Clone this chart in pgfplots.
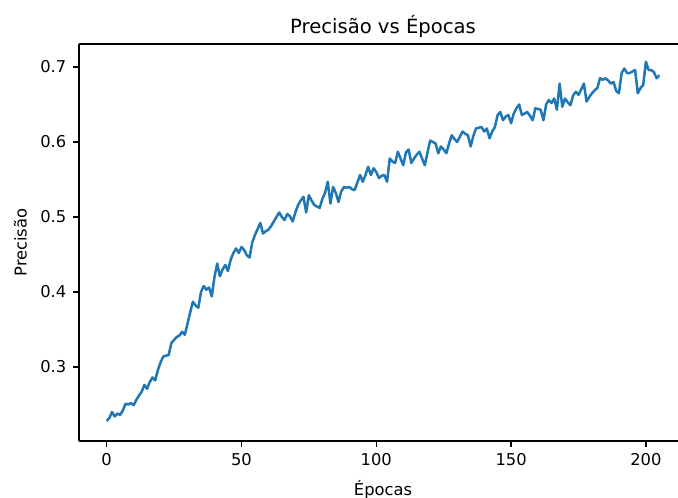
\documentclass[border=0pt]{standalone}
\usepackage{fontspec}
\setmainfont{DejaVu Sans}
\usepackage{pgfplots}
\pgfplotsset{compat=1.18}
\definecolor{mplblue}{HTML}{1F77B4}
\begin{document}
\begin{tikzpicture}
\begin{axis}[
  at={(0,0)}, anchor=south west,
  scale only axis,
  width=304pt, height=198.5pt,
  xmin=-10.25, xmax=215.25,
  ymin=0.2013, ymax=0.7307,
  axis x line*=box, axis y line*=left,
  xtick={0,50,100,150,200},
  ytick={0.3,0.4,0.5,0.6,0.7},
  xtick pos=bottom, ytick pos=left, tick align=outside,
  major tick length=2.85pt,
  every tick/.style={black, line width=0.65pt},
  axis line style={black, line width=0.65pt},
  /pgf/number format/assume math mode=true,
  yticklabel style={/pgf/number format/.cd, fixed, fixed zerofill, precision=1},
  ticklabel style={font=\fontsize{8.15}{10}\selectfont},
  title={Precisão vs Épocas},
  title style={at={(axis description cs:0.5,0.9963)}, anchor=base, font=\fontsize{9.8}{12}\selectfont, inner sep=0pt},
  xlabel={Épocas},
  xlabel style={at={(axis description cs:0.5,-0.137)}, anchor=base, inner sep=0pt, font=\fontsize{8.15}{10}\selectfont},
  ylabel={Precisão},
  ylabel style={at={(axis description cs:-0.086,0.5)}, anchor=base, rotate=0, inner sep=0pt, font=\fontsize{8.15}{10}\selectfont},
]
\addplot[mplblue, line width=1.25pt, line join=round] coordinates {
(0,0.228) (1,0.232) (2,0.240) (3,0.234) (4,0.238) (5,0.236) (6,0.242) (7,0.251) (8,0.250) (9,0.252)
(10,0.249) (11,0.256) (12,0.262) (13,0.267) (14,0.276) (15,0.271) (16,0.280) (17,0.286) (18,0.282) (19,0.296)
(20,0.306) (21,0.314) (22,0.315) (23,0.316) (24,0.332) (25,0.336) (26,0.340) (27,0.342) (28,0.347) (29,0.343)
(30,0.358) (31,0.373) (32,0.387) (33,0.382) (34,0.379) (35,0.400) (36,0.408) (37,0.403) (38,0.406) (39,0.394)
(40,0.420) (41,0.438) (42,0.421) (43,0.430) (44,0.436) (45,0.428) (46,0.443) (47,0.452) (48,0.458) (49,0.452)
(50,0.460) (51,0.456) (52,0.449) (53,0.446) (54,0.466) (55,0.476) (56,0.484) (57,0.492) (58,0.478) (59,0.481)
(60,0.483) (61,0.488) (62,0.494) (63,0.500) (64,0.506) (65,0.500) (66,0.496) (67,0.504) (68,0.501) (69,0.494)
(70,0.506) (71,0.516) (72,0.522) (73,0.527) (74,0.506) (75,0.529) (76,0.522) (77,0.516) (78,0.514) (79,0.512)
(80,0.524) (81,0.532) (82,0.547) (83,0.518) (84,0.540) (85,0.532) (86,0.520) (87,0.534) (88,0.540) (89,0.539)
(90,0.540) (91,0.537) (92,0.536) (93,0.546) (94,0.556) (95,0.547) (96,0.556) (97,0.567) (98,0.556) (99,0.565)
(100,0.560) (101,0.552) (102,0.555) (103,0.556) (104,0.547) (105,0.578) (106,0.574) (107,0.572) (108,0.587) (109,0.578)
(110,0.569) (111,0.586) (112,0.590) (113,0.572) (114,0.578) (115,0.583) (116,0.587) (117,0.578) (118,0.569) (119,0.586)
(120,0.602) (121,0.600) (122,0.598) (123,0.585) (124,0.594) (125,0.590) (126,0.585) (127,0.598) (128,0.609) (129,0.604)
(130,0.600) (131,0.607) (132,0.614) (133,0.611) (134,0.609) (135,0.594) (136,0.608) (137,0.618) (138,0.619) (139,0.620)
(140,0.614) (141,0.618) (142,0.605) (143,0.614) (144,0.620) (145,0.636) (146,0.640) (147,0.629) (148,0.634) (149,0.636)
(150,0.625) (151,0.638) (152,0.645) (153,0.650) (154,0.636) (155,0.638) (156,0.640) (157,0.635) (158,0.629) (159,0.645)
(160,0.644) (161,0.643) (162,0.629) (163,0.650) (164,0.656) (165,0.652) (166,0.658) (167,0.643) (168,0.678) (169,0.647)
(170,0.658) (171,0.653) (172,0.649) (173,0.662) (174,0.667) (175,0.663) (176,0.670) (177,0.678) (178,0.654) (179,0.660)
(180,0.665) (181,0.669) (182,0.672) (183,0.685) (184,0.683) (185,0.685) (186,0.682) (187,0.678) (188,0.680) (189,0.668)
(190,0.665) (191,0.692) (192,0.698) (193,0.692) (194,0.692) (195,0.694) (196,0.696) (197,0.665) (198,0.672) (199,0.676)
(200,0.707) (201,0.696) (202,0.696) (203,0.693) (204,0.685) (205,0.689)
};
\end{axis}
\pgfresetboundingbox
\path[use as bounding box] (-39.5pt,-28pt) rectangle (299.5pt,220.5pt);
\end{tikzpicture}
\end{document}
